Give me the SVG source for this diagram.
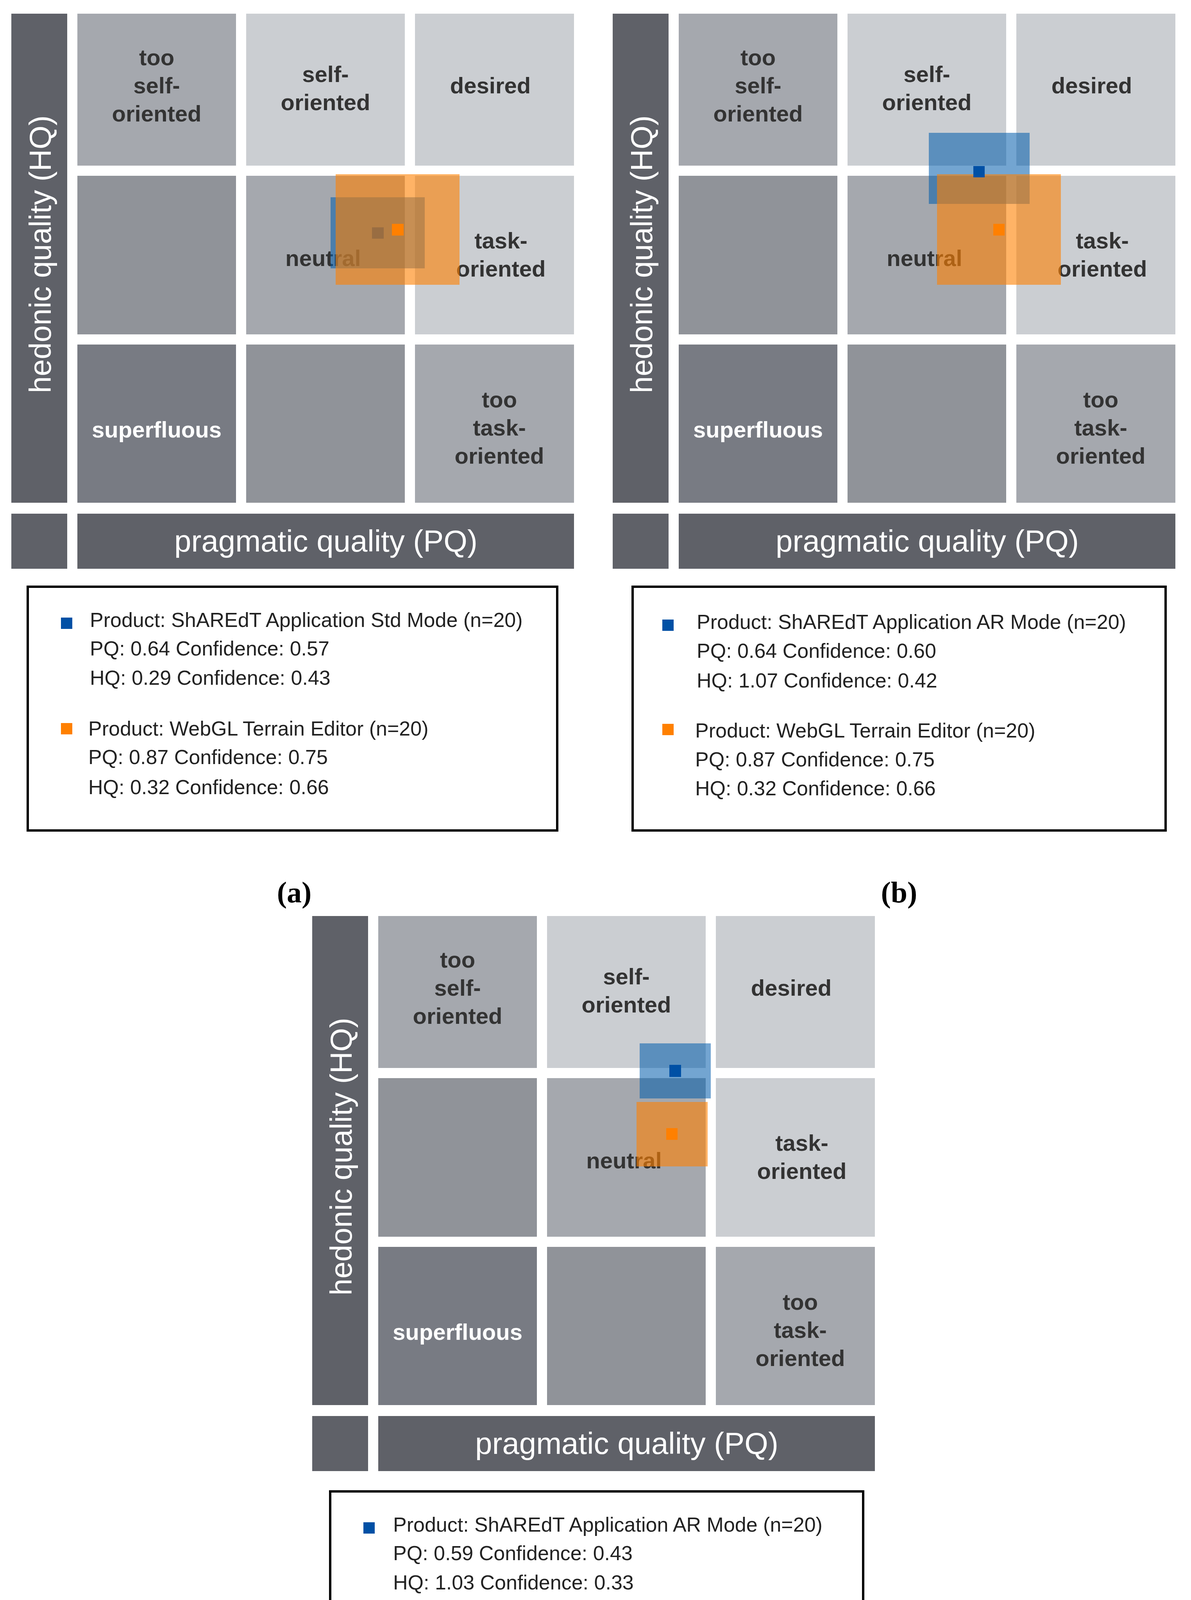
<svg xmlns="http://www.w3.org/2000/svg" width="3048" height="4640" viewBox="0 0 3048 4640">
<style>
.bar{fill:#5f6168}.c1{fill:#a5a8ae}.c2{fill:#cbced2}.c3{fill:#909399}.c4{fill:#787b83}
.lab{font-family:"Liberation Sans",Arial,sans-serif;font-weight:bold;font-size:58px;fill:#333;text-anchor:middle}
.wl{fill:#fff}
.ax{font-family:"Liberation Sans",Arial,sans-serif;font-size:78px;fill:#fff;text-anchor:middle}
.lg{font-family:"Liberation Sans",Arial,sans-serif;font-size:52px;fill:#222}
.box{fill:none;stroke:#000;stroke-width:6}
.cap{font-family:"Liberation Serif","Times New Roman",serif;font-size:76px;font-weight:bold;fill:#000;text-anchor:middle}
.br{fill:#005bab;opacity:.55}.or{fill:#ff8000;opacity:.6}.bp{fill:#0050a5}.op{fill:#ff8000}
</style>
<defs>
<g id="grid">
<rect class="bar" x="29" y="35" width="143" height="1252"/>
<rect class="bar" x="29" y="1315" width="143" height="141"/>
<rect class="bar" x="198" y="1315" width="1271" height="141"/>
<text class="ax" transform="translate(130,651) rotate(-90)">hedonic quality (HQ)</text>
<text class="ax" x="834" y="1412">pragmatic quality (PQ)</text>
<rect class="c1" x="198" y="35" width="406" height="389"/>
<rect class="c2" x="630" y="35" width="406" height="389"/>
<rect class="c2" x="1062" y="35" width="407" height="389"/>
<rect class="c3" x="198" y="450" width="406" height="406"/>
<rect class="c1" x="630" y="450" width="406" height="406"/>
<rect class="c2" x="1062" y="450" width="407" height="406"/>
<rect class="c4" x="198" y="882" width="406" height="405"/>
<rect class="c3" x="630" y="882" width="406" height="405"/>
<rect class="c1" x="1062" y="882" width="407" height="405"/>
<text class="lab" x="401" y="167">too</text>
<text class="lab" x="401" y="239">self-</text>
<text class="lab" x="401" y="311">oriented</text>
<text class="lab" x="833" y="210">self-</text>
<text class="lab" x="833" y="282">oriented</text>
<text class="lab" x="1255" y="239">desired</text>
<text class="lab" x="827" y="681">neutral</text>
<text class="lab" x="1282" y="636">task-</text>
<text class="lab" x="1282" y="708">oriented</text>
<text class="lab wl" x="401" y="1120">superfluous</text>
<text class="lab" x="1278" y="1043">too</text>
<text class="lab" x="1278" y="1115">task-</text>
<text class="lab" x="1278" y="1187">oriented</text>
</g>
</defs>
<g id="panel-a"><use href="#grid"/></g>
<g id="panel-b"><use href="#grid" transform="translate(1539,0)"/></g>
<g id="panel-c"><use href="#grid" transform="translate(770,2310)"/></g>
<g id="overlay-a">
<rect class="br" x="846" y="505" width="241" height="182"/>
<rect class="bp" x="952" y="582" width="30" height="29"/>
<rect class="or" x="859" y="446" width="317" height="283"/>
<rect class="op" x="1003" y="573" width="30" height="30"/>
</g>
<g id="overlay-b">
<rect class="br" x="2377" y="340" width="258" height="182"/>
<rect class="or" x="2398" y="446" width="317" height="283"/>
<rect class="bp" x="2491" y="425" width="29" height="29"/>
<rect class="op" x="2542" y="573" width="29" height="30"/>
</g>
<g id="overlay-c">
<rect class="br" x="1637" y="2671" width="182" height="141"/>
<rect class="or" x="1629" y="2821" width="182" height="165"/>
<rect class="bp" x="1713" y="2726" width="30" height="31"/>
<rect class="op" x="1705" y="2888" width="29" height="30"/>
</g>
<g id="legend-a">
<rect class="box" x="71" y="1502" width="1355" height="624"/>
<rect class="bp" x="156" y="1581" width="29" height="29"/>
<text class="lg" x="230" y="1605">Product: ShAREdT Application Std Mode (n=20)</text>
<text class="lg" x="230" y="1678">PQ: 0.64 Confidence: 0.57</text>
<text class="lg" x="230" y="1753">HQ: 0.29 Confidence: 0.43</text>
<rect class="op" x="156" y="1851" width="29" height="29"/>
<text class="lg" x="226" y="1883">Product: WebGL Terrain Editor (n=20)</text>
<text class="lg" x="226" y="1956">PQ: 0.87 Confidence: 0.75</text>
<text class="lg" x="226" y="2033">HQ: 0.32 Confidence: 0.66</text>
</g>
<g id="legend-b">
<rect class="box" x="1619" y="1502" width="1364" height="624"/>
<rect class="bp" x="1695" y="1586" width="29" height="29"/>
<text class="lg" x="1783" y="1610">Product: ShAREdT Application AR Mode (n=20)</text>
<text class="lg" x="1783" y="1684">PQ: 0.64 Confidence: 0.60</text>
<text class="lg" x="1783" y="1760">HQ: 1.07 Confidence: 0.42</text>
<rect class="op" x="1695" y="1853" width="29" height="29"/>
<text class="lg" x="1779" y="1888">Product: WebGL Terrain Editor (n=20)</text>
<text class="lg" x="1779" y="1962">PQ: 0.87 Confidence: 0.75</text>
<text class="lg" x="1779" y="2036">HQ: 0.32 Confidence: 0.66</text>
</g>
<g id="legend-c">
<rect class="box" x="845" y="3818" width="1364" height="624"/>
<rect class="bp" x="930" y="3897" width="29" height="29"/>
<text class="lg" x="1006" y="3921">Product: ShAREdT Application AR Mode (n=20)</text>
<text class="lg" x="1006" y="3994">PQ: 0.59 Confidence: 0.43</text>
<text class="lg" x="1006" y="4069">HQ: 1.03 Confidence: 0.33</text>
<rect class="op" x="930" y="4167" width="29" height="29"/>
<text class="lg" x="1002" y="4199">Product: ShAREdT Application Std Mode (n=20)</text>
<text class="lg" x="1002" y="4272">PQ: 0.56 Confidence: 0.43</text>
<text class="lg" x="1002" y="4349">HQ: 0.26 Confidence: 0.39</text>
</g>
<g id="captions">
<text class="cap" x="753" y="2310">(a)</text>
<text class="cap" x="2301" y="2310">(b)</text>
<text class="cap" x="1527" y="4625">(c)</text>
</g>
</svg>
